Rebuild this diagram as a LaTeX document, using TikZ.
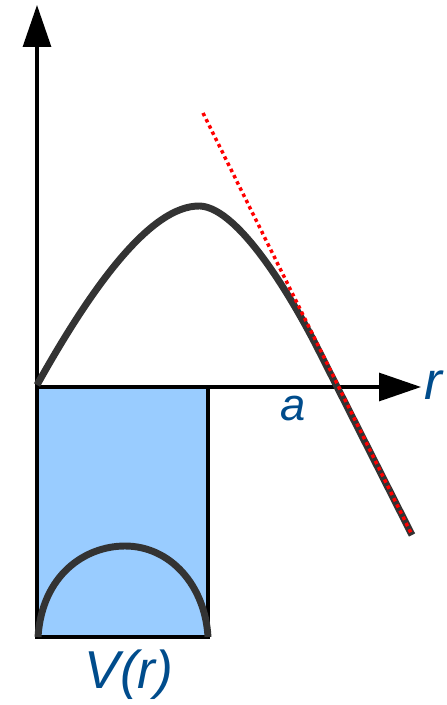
\documentclass[tikz,border=0pt]{standalone}
\usepackage{fontspec}
\setmainfont{Liberation Sans}
\usetikzlibrary{arrows.meta}
\definecolor{lblue}{HTML}{004C8C}
\definecolor{boxfill}{HTML}{99CCFF}
\definecolor{curvegray}{HTML}{333333}
\tikzset{
  axis/.style={line width=2.3pt, black},
  tipstyle/.style={-{Triangle[length=31.5pt,width=21pt]}},
  curve/.style={line width=5.2pt, curvegray},
  tangentline/.style={line width=2.6pt, red, dash pattern=on 2.6pt off 2.6pt},
  lbl/.style={text=lblue, font=\itshape, inner sep=0pt}
}
\begin{document}
\begin{tikzpicture}[x=0.75pt,y=-0.75pt]
\useasboundingbox (0,0) rectangle (446,705);
% box
\draw[line width=2.3pt, fill=boxfill] (37,387) rectangle (208,637);
% inner arc
\draw[curve] (38,637) .. controls (42,575) and (85,546) .. (125,546) .. controls (170,546) and (205,585) .. (208,637);
% axes
\draw[axis, tipstyle] (37,387) -- (37,5);
\draw[axis, tipstyle] (37,387) -- (421,387);
% main curve
\draw[curve] (37,385) .. controls (90,290) and (150,205) .. (200,206) .. controls (240,208) and (295,303) .. (320,353) -- (412,535);
% tangent
\draw[tangentline] (203,113) -- (412,535);
% labels
\node[lbl, font=\itshape\fontsize{34}{34}\selectfont] (la) at (293,409) {a};
\node[lbl, font=\itshape\fontsize{40}{40}\selectfont] (lr) at (433,385) {r};
\node[lbl, font=\itshape\fontsize{40}{40}\selectfont] (lv) at (129,675) {V(r)};
\end{tikzpicture}
\end{document}
